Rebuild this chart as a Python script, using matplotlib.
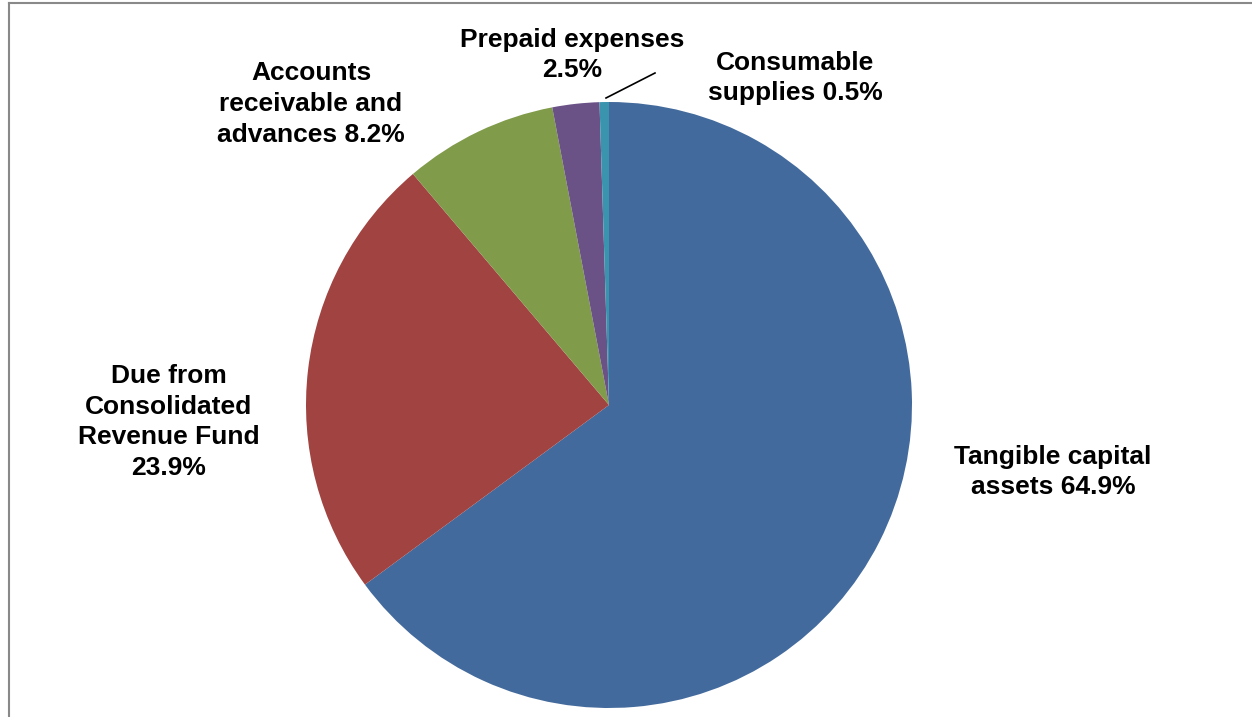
import matplotlib
matplotlib.use("Agg")
import matplotlib.pyplot as plt
from matplotlib.lines import Line2D

# Asset composition
categories = [
    "Tangible capital\nassets",
    "Due from\nConsolidated\nRevenue Fund\n",
    "Accounts\nreceivable and\nadvances",
    "Prepaid expenses\n",
    "Consumable\nsupplies",
]
shares = [64.9, 23.9, 8.2, 2.5, 0.5]
colors = ["#436A9C", "#A04341", "#809B4A", "#6A5287", "#3A94AE"]

W, H = 1252, 717
fig = plt.figure(figsize=(W / 100, H / 100), dpi=100)
plt.rcParams["font.family"] = ["Liberation Sans", "DejaVu Sans"]

# Pie centred at (609, 405) px with radius 303 px
cx, cy, r = 609, 405, 303
ax = fig.add_axes([(cx - r) / W, (H - cy - r) / H, 2 * r / W, 2 * r / H])
ax.pie(shares, colors=colors, startangle=90, counterclock=False,
       radius=1.0, wedgeprops=dict(linewidth=0))
ax.set_xlim(-1, 1)
ax.set_ylim(-1, 1)
ax.set_aspect("equal")
ax.axis("off")

# Label centres in pixel coordinates (x, y from top)
label_pos = [(1053, 472), (169, 422), (311, 104), (572, 55), (795, 78)]
for name, val, (px, py) in zip(categories, shares, label_pos):
    sep = "" if name.endswith("\n") else " "
    fig.text(px / W, 1 - py / H, f"{name}{sep}{val}%", ha="center", va="center",
             fontsize=19, fontweight="bold", linespacing=1.35, color="black")

# Leader line for the small consumable-supplies slice
fig.add_artist(Line2D([606 / W, 655 / W], [1 - 98 / H, 1 - 73 / H],
                      color="black", lw=1.2))

# Chart-area border (left and top edges)
fig.add_artist(Line2D([9 / W, 9 / W], [0, 1 - 3 / H], color="#898989", lw=1.5))
fig.add_artist(Line2D([9 / W, 1], [1 - 3 / H, 1 - 3 / H], color="#898989", lw=1.5))

fig.savefig("out.png", dpi=100)
